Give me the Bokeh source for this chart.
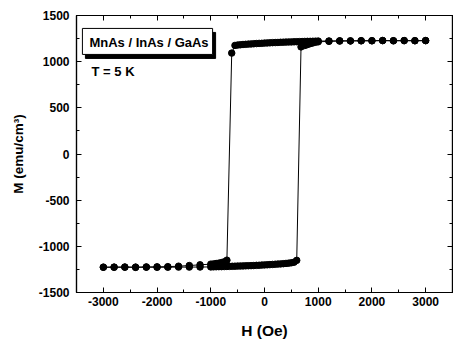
from bokeh.plotting import figure
from bokeh.models import (Range1d, LinearAxis, SingleIntervalTicker, Label,
                          PrintfTickFormatter, CustomJSTickFormatter)
from bokeh.embed import file_html
from bokeh.resources import INLINE

# Descending branch (from +3000 Oe to -3000 Oe)
H_down = [3000, 2800, 2600, 2400, 2200, 2000, 1800, 1600, 1400, 1200, 1000,
          950, 900, 850, 800, 750, 700, 650, 600, 550, 500, 450, 400, 350, 300,
          250, 200, 150, 100, 50, 0, -50, -100, -150, -200, -250, -300, -350,
          -400, -450, -500, -550, -610, -700, -750, -800, -850, -900, -950,
          -1000, -1200, -1400, -1600, -1800, -2000, -2200, -2400, -2600, -2800, -3000]
M_down = [1228, 1227, 1228, 1226, 1229, 1226, 1227, 1225, 1226, 1224, 1223,
          1222, 1221, 1220, 1220, 1219, 1218, 1217, 1216, 1215, 1214, 1213, 1212, 1211, 1210,
          1208, 1207, 1206, 1204, 1203, 1201, 1199, 1198, 1196, 1194, 1192, 1190, 1188,
          1186, 1183, 1180, 1176, 1093, -1150, -1168, -1176, -1182, -1186, -1190,
          -1193, -1200, -1208, -1215, -1220, -1222, -1223, -1225, -1224, -1225, -1226]

# Ascending branch (from -3000 Oe to +3000 Oe)
H_up = [-3000, -2800, -2600, -2400, -2200, -2000, -1800, -1600, -1400, -1200, -1000,
        -950, -900, -850, -800, -750, -700, -650, -600, -550, -500, -450, -400, -350,
        -300, -250, -200, -150, -100, -50, 0, 50, 100, 150, 200, 250, 300, 350, 400,
        450, 500, 550, 600, 680, 750, 800, 850, 900, 950, 1000,
        1200, 1400, 1600, 1800, 2000, 2200, 2400, 2600, 2800, 3000]
M_up = [-1226, -1227, -1226, -1228, -1226, -1227, -1226, -1225, -1225, -1224, -1223,
        -1222, -1221, -1220, -1220, -1219, -1218, -1217, -1216, -1215, -1214, -1213, -1212, -1211,
        -1210, -1209, -1208, -1206, -1205, -1203, -1201, -1200, -1198, -1196, -1194, -1192, -1190, -1188, -1185,
        -1182, -1178, -1172, -1152, 1160, 1175, 1185, 1195, 1203, 1210, 1215,
        1220, 1223, 1225, 1226, 1227, 1228, 1227, 1228, 1227, 1228]

FONT = "Liberation Sans"

p = figure(width=453, height=343, output_backend="svg", toolbar_location=None,
           x_range=Range1d(-3500, 3500), y_range=Range1d(-1500, 1500),
           min_border_left=76, min_border_right=1, min_border_top=15, min_border_bottom=51)
p.background_fill_color = "white"
p.border_fill_color = "white"
p.outline_line_color = "black"
p.outline_line_width = 1.2
p.xgrid.visible = False
p.ygrid.visible = False

for H, M in [(H_down, M_down), (H_up, M_up)]:
    p.line(H, M, line_color="black", line_width=1)
    p.scatter(H, M, size=6.5, fill_color="black", line_color="black")

def style_axis(ax, labels=True):
    ax.axis_line_color = "black"
    ax.axis_line_width = 1.2
    ax.major_tick_in = 5
    ax.major_tick_out = 0
    ax.minor_tick_in = 3
    ax.minor_tick_out = 0
    ax.major_tick_line_color = "black"
    ax.minor_tick_line_color = "black"
    ax.major_label_text_font = FONT
    ax.major_label_text_font_style = "bold"
    ax.major_label_text_font_size = "12px"
    ax.major_label_text_color = "black"
    ax.axis_label_text_font = FONT
    ax.axis_label_text_font_style = "bold"
    ax.axis_label_text_color = "black"
    if labels:
        ax.formatter = PrintfTickFormatter(format="%d")
    else:
        ax.formatter = CustomJSTickFormatter(code="return '';")
        ax.major_label_text_color = None
        ax.major_label_standoff = 0

p.xaxis.ticker = SingleIntervalTicker(interval=1000, num_minor_ticks=2)
p.yaxis.ticker = SingleIntervalTicker(interval=500, num_minor_ticks=2)
style_axis(p.xaxis[0])
style_axis(p.yaxis[0])
p.xaxis.axis_label = "H (Oe)"
p.yaxis.axis_label = "M (emu/cm³)"
p.xaxis.axis_label_text_font_size = "15.5px"
p.yaxis.axis_label_text_font_size = "13.5px"
p.xaxis.major_label_standoff = 4
p.yaxis.major_label_standoff = 7
p.xaxis.axis_label_standoff = 13
p.yaxis.axis_label_standoff = 10

top = LinearAxis(ticker=SingleIntervalTicker(interval=1000, num_minor_ticks=2))
style_axis(top, labels=False)
p.add_layout(top, "above")
right = LinearAxis(ticker=SingleIntervalTicker(interval=500, num_minor_ticks=2))
style_axis(right, labels=False)
p.add_layout(right, "right")

shadow = Label(x=-3390, y=1360, text="MnAs / InAs / GaAs", x_offset=3, y_offset=-4,
               text_font=FONT, text_font_style="bold", text_font_size="13px",
               text_color="black", anchor="top_left",
               background_fill_color="black", border_line_color="black")
box = Label(x=-3390, y=1360, text="MnAs / InAs / GaAs",
            text_font=FONT, text_font_style="bold", text_font_size="13px",
            text_color="black", anchor="top_left",
            background_fill_color="white", border_line_color="black", border_line_width=1)
box.padding = (7, 4, 7, 4)
shadow.padding = (7, 4, 7, 4)
p.add_layout(shadow)
p.add_layout(box)

temp = Label(x=-3220, y=894, text="T = 5 K", text_font=FONT, text_font_style="bold",
             text_font_size="13px", text_color="black", anchor="center_left",
             text_baseline="middle")
p.add_layout(temp)

open("out.html", "w").write(file_html(p, INLINE))
